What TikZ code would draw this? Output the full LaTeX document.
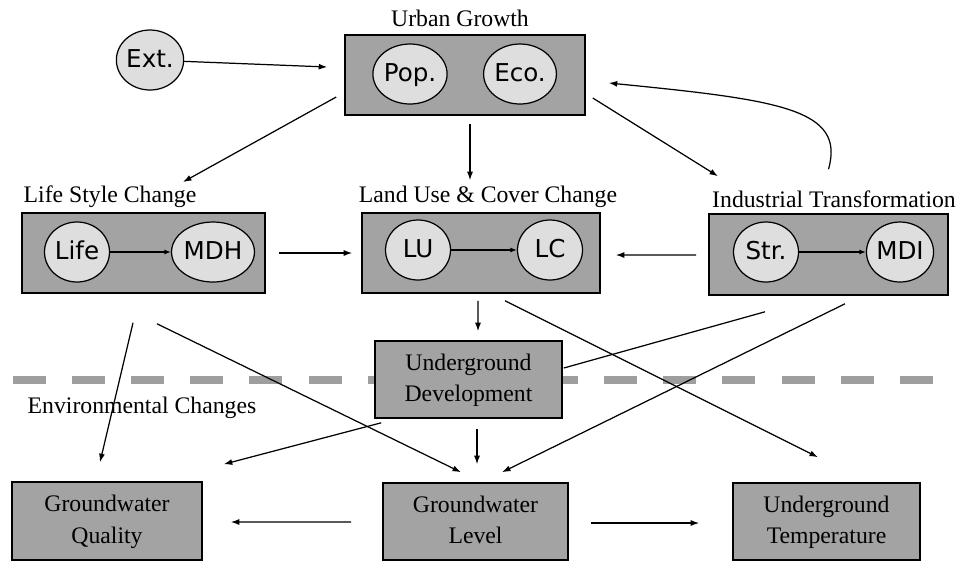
\documentclass[tikz,border=0pt]{standalone}
\usepackage{fontspec}
\setmainfont{Liberation Serif}
\newfontfamily\circfont{DejaVu Sans}
\usetikzlibrary{arrows.meta,calc,shapes.geometric}
\definecolor{boxfill}{gray}{0.64}
\definecolor{circfill}{gray}{0.87}
\definecolor{sepgray}{gray}{0.62}
\begin{document}
\begin{tikzpicture}[x=0.02cm,y=-0.02cm,
        box/.style={draw,line width=0.9pt,fill=boxfill,inner sep=0pt,align=center,
            font=\fontsize{13.5}{18}\selectfont},
        circ/.style={draw,ellipse,line width=0.7pt,fill=circfill,minimum width=1.3cm,
            minimum height=1.2cm,inner sep=0pt,text height=10pt,text depth=2pt,
            font=\circfont\fontsize{14}{16}\selectfont},
        lbl/.style={inner sep=0pt,font=\fontsize{13.5}{16}\selectfont},
        arr/.style={line width=0.7pt,-{Latex[length=0.17cm,width=0.12cm]}},
        tip/.style={line width=0.7pt,-{Latex[length=0.13cm,width=0.1cm]}}]
    \useasboundingbox (0,0) rectangle (966,562);
    \draw[sepgray,line width=0.16cm,dash pattern=on 0.66cm off 0.5227cm] (13,380) -- (933,380);
    % driving forces
    \node[lbl] (urbanlbl) at (460,18) {Urban Growth};
    \node[box,minimum width=4.8cm,minimum height=1.6cm] (urban) at (465,75) {};
    \node[circ] (pop) at (410,74) {Pop.};
    \node[circ] (eco) at (520,74) {Eco.};
    \node[circ,minimum width=1.32cm] (ext) at (150,60) {Ext.};
    \node[lbl] (lifelbl) at (110,197) {Life Style Change};
    \node[box,minimum width=4.86cm,minimum height=1.6cm] (life) at (143.5,253) {};
    \node[circ] (lifec) at (77,252) {Life};
    \node[circ] (mdh) at (213,252) {MDH};
    \node[lbl] (lulbl) at (488,197) {Land Use \& Cover Change};
    \node[box,minimum width=4.76cm,minimum height=1.6cm] (lu) at (481,253) {};
    \node[circ] (luc) at (418,250) {LU};
    \node[circ] (lc) at (550,250) {LC};
    \node[lbl] (indlbl) at (834,199) {Industrial Transformation};
    \node[box,minimum width=4.78cm,minimum height=1.62cm] (ind) at (828.5,254.5) {};
    \node[circ] (str) at (766,252) {Str.};
    \node[circ] (mdi) at (900,252) {MDI};
    \node[box,minimum width=3.74cm,minimum height=1.54cm] (ud) at (468.5,379.5) {Underground\strut\\Development\strut};
    % environmental changes
    \node[lbl] (envlbl) at (142,408) {Environmental Changes};
    \node[box,minimum width=3.8cm,minimum height=1.56cm] (gwq) at (107,521) {Groundwater\strut\\Quality\strut};
    \node[box,minimum width=3.7cm,minimum height=1.54cm] (gwl) at (475.5,521.5) {Groundwater\strut\\Level\strut};
    \node[box,minimum width=3.74cm,minimum height=1.54cm] (ut) at (826.5,521.5) {Underground\strut\\Temperature\strut};
    % links
    \draw[tip] (lifec) -- (mdh);
    \draw[tip] (luc) -- (lc);
    \draw[tip] (str) -- (mdi);
    \draw[arr] (ext) -- ($(urban.west)+(-17,-8)$);
    \draw[arr] ($(urban.west)+(-8,22)$) -- ($(lifelbl)+(73,-15)$);
    \draw[arr] ($(urban.south)+(5,8)$) -- ($(lu.north)+(-11,-32)$);
    \draw[arr] ($(urban.east)+(7,23)$) -- ($(ind.north)+(-110.5,-37)$);
    \draw[arr] ($(ind.north)+(0,-44)$) .. controls +(17,-60) and +(172,17) .. ($(urban.east)+(23,8)$);
    \draw[arr] ($(life.east)+(13,0)$) -- ($(lu.west)+(-9,0)$);
    \draw[arr] ($(ind.west)+(-12,0.5)$) -- ($(lu.east)+(15,2)$);
    \draw[arr] ($(lu.south)+(-3,7)$) -- ($(ud.north)+(9.5,-9)$);
    \draw[arr] ($(life.south)+(-10.5,29)$) -- ($(gwq.north)+(-7,-19)$);
    \draw[arr] ($(life.south)+(13.5,30)$) -- ($(gwl.north)+(-14.5,-10)$);
    \draw[arr] ($(lu.south)+(24,7)$) -- ($(ut.north)+(-8.5,-25)$);
    \draw[line width=0.7pt] ($(ind.south)+(-63.5,16)$) -- ($(ud.east)+(1,-11.5)$);
    \draw[arr] ($(ind.south)+(16.5,8)$) -- ($(gwl.north)+(26.5,-10)$);
    \draw[arr] ($(ud.south west)+(7,4)$) -- ($(gwq.north east)+(21,-17)$);
    \draw[arr] ($(ud.south)+(8.5,10)$) -- ($(gwl.north)+(1.5,-18)$);
    \draw[arr] ($(gwl.west)+(-31,0.5)$) -- ($(gwq.east)+(28,1)$);
    \draw[arr] ($(gwl.east)+(22,1.5)$) -- ($(ut.west)+(-33,1.5)$);
\end{tikzpicture}
\end{document}
